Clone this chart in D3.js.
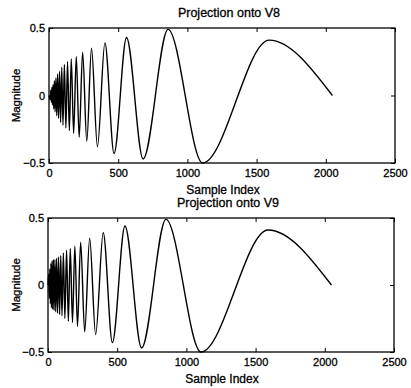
<!DOCTYPE html>
<html>
<head>
<meta charset="utf-8">
<script src="https://cdn.jsdelivr.net/npm/d3@7"></script>
<style>
  body { margin: 0; background: #fff; }
  svg { display: block; }
  text { font-family: "Liberation Sans", Arial, sans-serif; fill: #000; stroke: #000; stroke-width: 0.3px; }
</style>
</head>
<body>
<div id="chart"></div>
<script>
// extrema (sample index, magnitude)
const v8Index = [0, 10, 13, 17, 21, 25, 29, 34, 39, 44, 50, 56, 62, 69, 76, 84, 92, 101, 111, 122, 134, 147, 161, 178, 197, 218, 243, 273, 307, 350, 404, 470, 560, 680, 860, 1110, 1590, 2048];
const v8Value = [0, -0.03, 0.04, -0.05, 0.06, -0.07, 0.08, -0.10, 0.11, -0.12, 0.13, -0.15, 0.16, -0.17, 0.18, -0.20, 0.21, -0.22, 0.23, -0.24, 0.25, -0.26, 0.27, -0.28, 0.29, -0.31, 0.32, -0.34, 0.35, -0.38, 0.39, -0.43, 0.43, -0.47, 0.49, -0.50, 0.41, 0.0];

const v9Index = [0, 5, 9, 13, 17, 21, 25, 29, 34, 39, 44, 50, 56, 62, 69, 76, 84, 92, 101, 111, 122, 134, 147, 161, 177, 194, 213, 236, 265, 301, 344, 399, 465, 556, 676, 852, 1105, 1590, 2048];
const v9Value = [0, 0.08, -0.10, 0.12, -0.14, 0.16, -0.17, 0.18, -0.18, 0.19, -0.19, 0.19, -0.20, 0.20, -0.21, 0.21, -0.22, 0.22, -0.23, 0.24, -0.25, 0.26, -0.27, 0.27, -0.28, 0.29, -0.31, 0.32, -0.35, 0.35, -0.37, 0.39, -0.43, 0.44, -0.47, 0.49, -0.50, 0.41, 0.0];

const titles = ['Projection onto V8', 'Projection onto V9'];
const xTicks = [0, 500, 1000, 1500, 2000, 2500];
const yTicks = [-0.5, 0, 0.5];

const width = 411, height = 388;

const svg = d3.select('#chart').append('svg')
    .attr('width', width)
    .attr('height', height);

const panels = [
  { left: 49, right: 395, top: 28, bottom: 163, xs: v8Index, ys: v8Value, title: titles[0] },
  { left: 48, right: 394, top: 218, bottom: 352, xs: v9Index, ys: v9Value, title: titles[1] }
];

panels.forEach(p => {
  const x = d3.scaleLinear().domain([0, 2500]).range([p.left, p.right]);
  const y = d3.scaleLinear().domain([-0.5, 0.5]).range([p.bottom, p.top]);
  const g = svg.append('g');

  const line = d3.line()
      .x(d => x(d[0]))
      .y(d => y(d[1]))
      .curve(d3.curveMonotoneX);

  g.append('path')
      .datum(p.xs.map((v, i) => [v, p.ys[i]]))
      .attr('d', line)
      .attr('fill', 'none')
      .attr('stroke', '#000')
      .attr('stroke-width', 1.4);

  const fmt = d => d === 0 ? '0' : d3.format('.1f')(d);

  g.append('g')
      .attr('transform', `translate(0,${p.bottom})`)
      .call(d3.axisBottom(x).tickValues(xTicks).tickSize(-4).tickSizeOuter(0).tickPadding(6).tickFormat(d3.format('d')));
  g.append('g')
      .attr('transform', `translate(0,${p.top})`)
      .call(d3.axisTop(x).tickValues(xTicks).tickSize(-4).tickSizeOuter(0).tickFormat(''));
  g.append('g')
      .attr('transform', `translate(${p.left},0)`)
      .call(d3.axisLeft(y).tickValues(yTicks).tickSize(-4).tickSizeOuter(0).tickPadding(4).tickFormat(fmt));
  g.append('g')
      .attr('transform', `translate(${p.right},0)`)
      .call(d3.axisRight(y).tickValues(yTicks).tickSize(-4).tickSizeOuter(0).tickFormat(''));

  g.selectAll('.domain').remove();
  g.selectAll('.tick line').attr('stroke', '#000').attr('stroke-width', 1);
  g.selectAll('.tick text')
      .style('font-family', '"Liberation Sans", Arial, sans-serif')
      .style('font-size', '11px')
      .attr('fill', '#000');

  g.append('rect')
      .attr('x', p.left)
      .attr('y', p.top)
      .attr('width', p.right - p.left)
      .attr('height', p.bottom - p.top)
      .attr('fill', 'none')
      .attr('stroke', '#000')
      .attr('stroke-width', 1.3);

  g.append('text')
      .attr('x', (p.left + p.right) / 2 + 7)
      .attr('y', p.top - 11)
      .attr('text-anchor', 'middle')
      .style('font-size', '12.5px')
      .text(p.title);

  g.append('text')
      .attr('x', (p.left + p.right) / 2 + 1)
      .attr('y', p.bottom + 31)
      .attr('text-anchor', 'middle')
      .style('font-size', '12px')
      .text('Sample Index');

  g.append('text')
      .attr('transform', `translate(20,${(p.top + p.bottom) / 2}) rotate(-90)`)
      .attr('text-anchor', 'middle')
      .style('font-size', '11.5px')
      .text('Magnitude');
});
</script>
</body>
</html>
